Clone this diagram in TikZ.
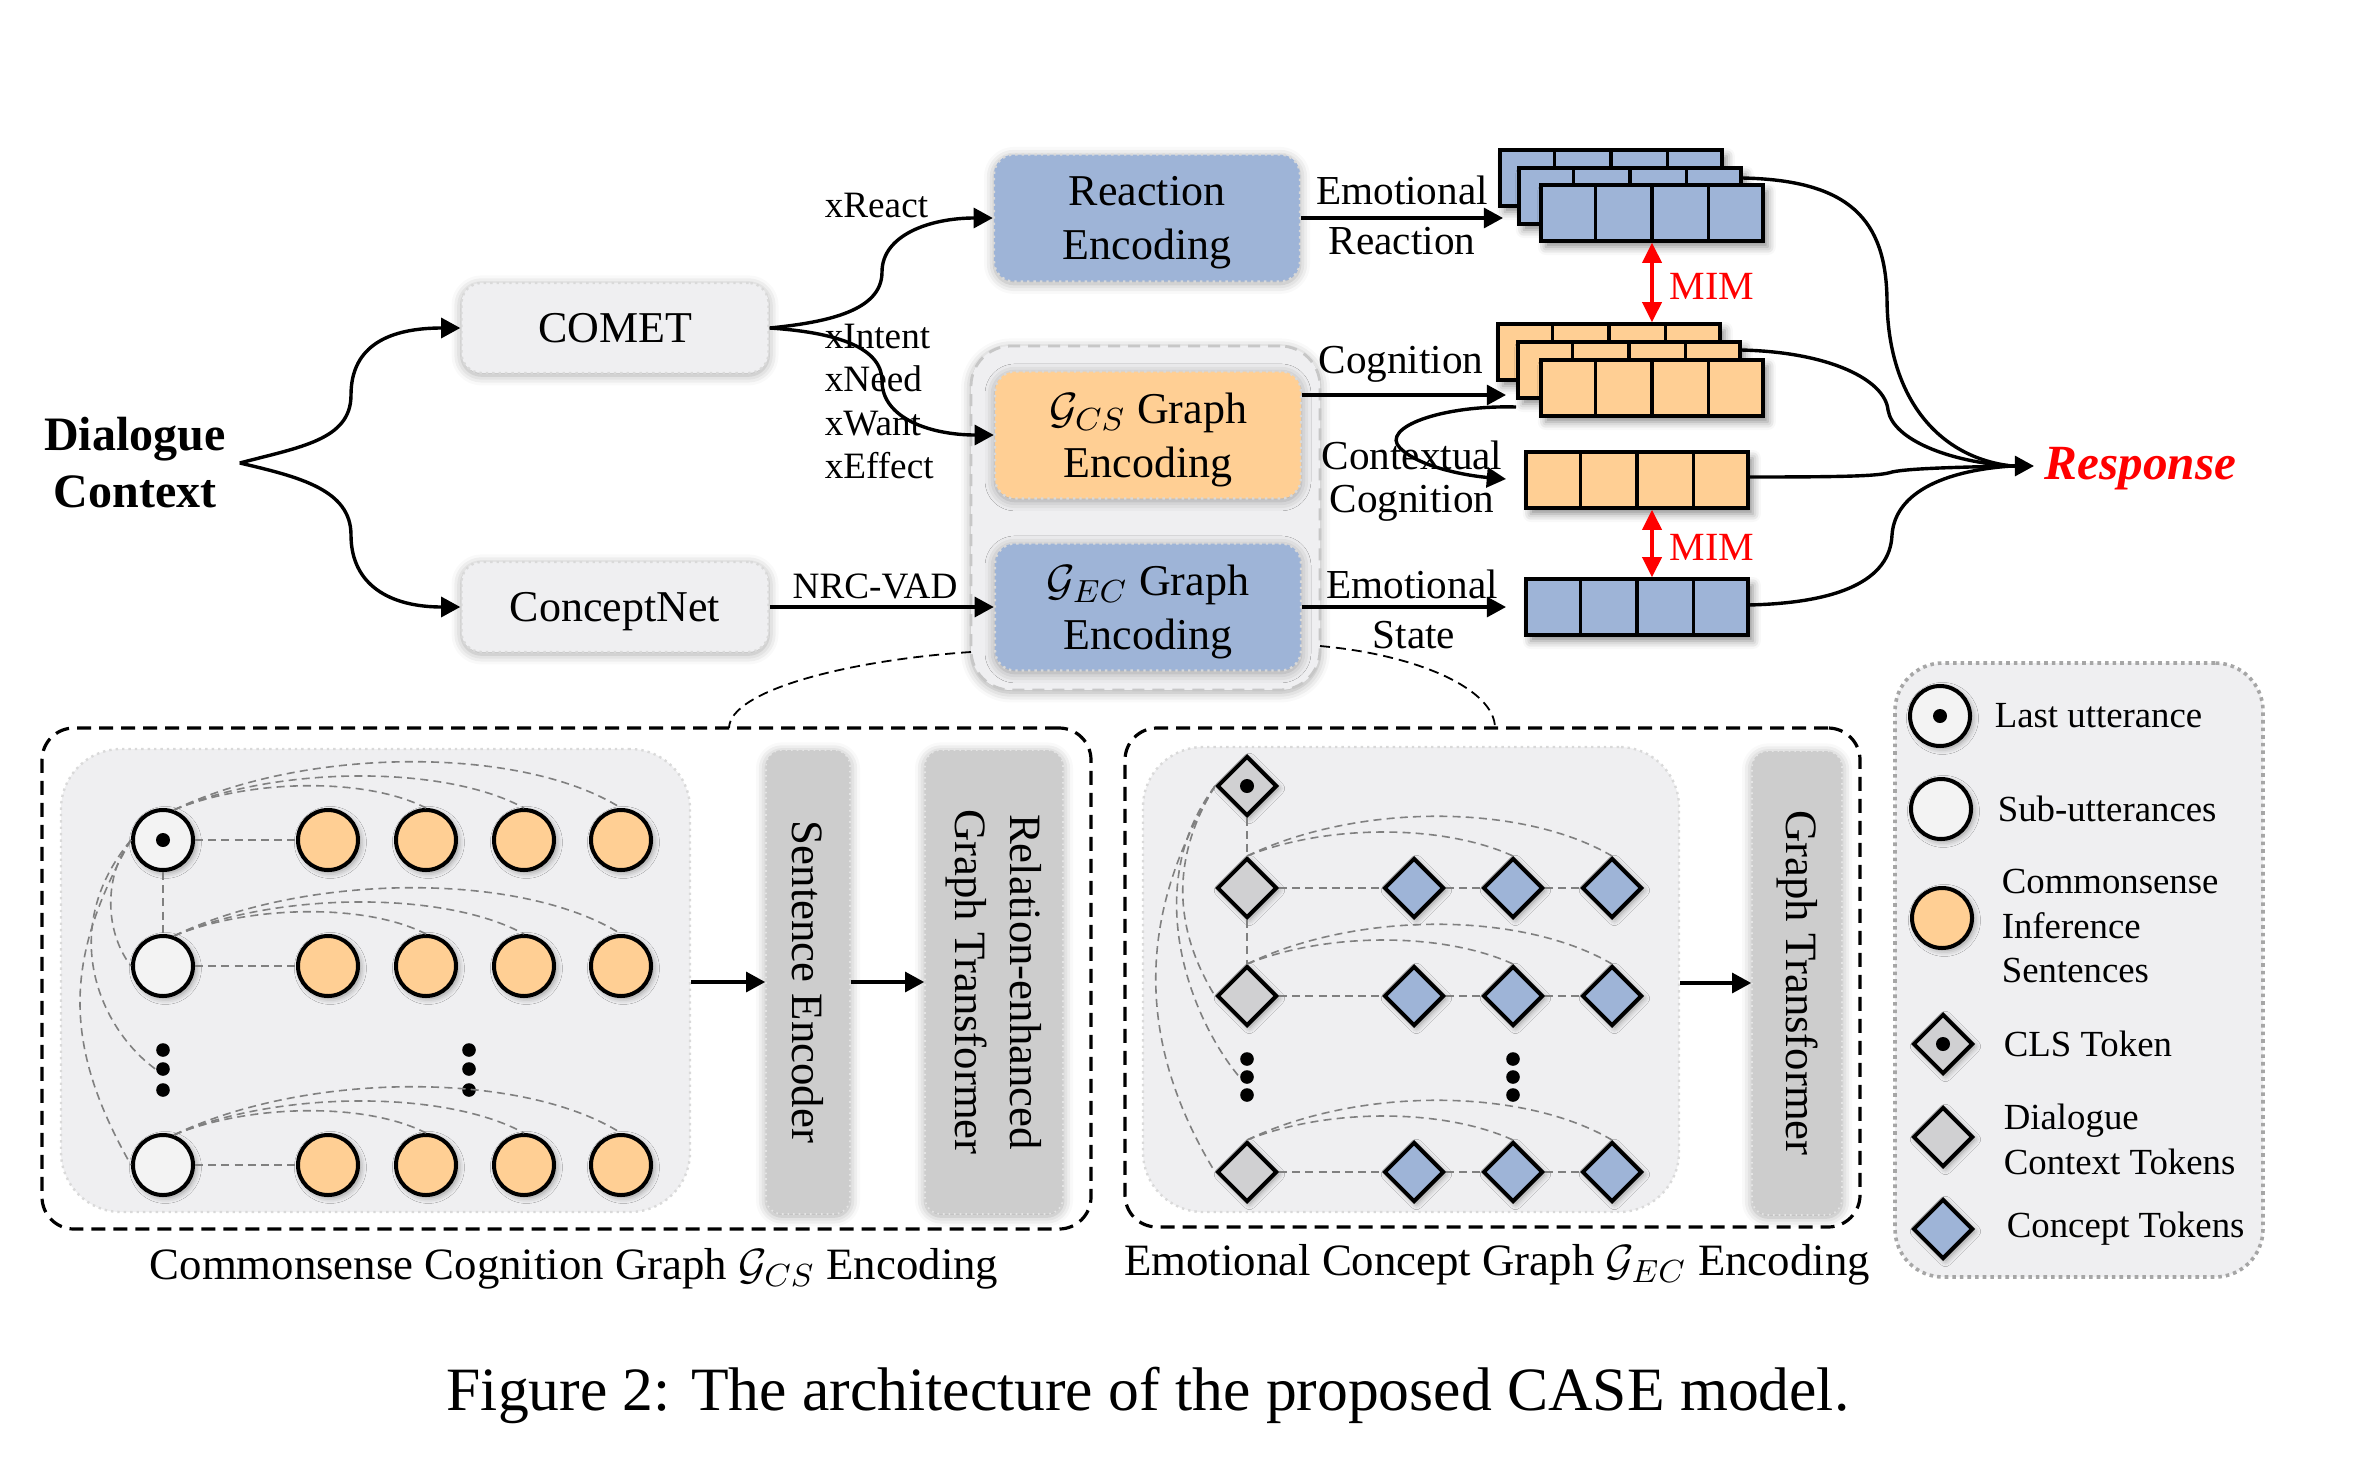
\documentclass[tikz,border=0pt]{standalone}
\usepackage{fontspec}
\setmainfont{Liberation Serif}
\usetikzlibrary{arrows.meta,shapes.geometric,shadows.blur,calc}
\definecolor{cblue}{HTML}{9EB4D7}
\definecolor{corange}{HTML}{FFCF94}
\definecolor{cpanel}{HTML}{EFEFF1}
\definecolor{cbar}{HTML}{CDCDCD}
\definecolor{cdia}{HTML}{D0D0D2}
\definecolor{cwhite}{HTML}{F3F3F3}
\newcommand{\fsz}[2]{\fontsize{#1}{#2}\selectfont}
\newcommand{\mkrow}[4]{%
  \node[rowbox,fill=#3] (#4) at (#1,#2) {};
  \foreach \t in {0.25,0.5,0.75}{\draw[line width=0.9pt] ($(#4.north west)!\t!(#4.north east)$) -- ($(#4.south west)!\t!(#4.south east)$);}%
}
\begin{document}
\begin{tikzpicture}[x=0.25pt,y=-0.25pt,
  arr/.style={line width=0.85pt,-{Triangle[length=4.8pt,width=5pt]}},
  redarr/.style={draw=red,line width=0.8pt,{Triangle[length=5pt,width=4.8pt]}-{Triangle[length=5pt,width=4.8pt]}},
  softshadow/.style={blur shadow={shadow xshift=0pt,shadow yshift=-0.6pt,shadow blur radius=2.5pt,shadow opacity=35}},
  encbox/.style={rectangle,rounded corners=5pt,minimum width=76.5pt,minimum height=31.75pt,inner sep=0pt,
    draw=black!15,densely dotted,line width=0.6pt,align=center,font=\fsz{11}{13.5},text depth=0pt,softshadow},
  srcbox/.style={encbox,fill=cpanel,minimum height=22.5pt,minimum width=76.75pt},
  lbl/.style={font=\fsz{9.3}{11},inner sep=0pt},
  mlbl/.style={font=\fsz{10.3}{12},inner sep=0pt},
  rowbox/.style={rectangle,draw=black,line width=0.9pt,minimum width=55.5pt,minimum height=14pt,inner sep=0pt,
    blur shadow={shadow xshift=1.2pt,shadow yshift=-1.5pt,shadow blur radius=2pt,shadow opacity=45}},
  gshadow/.style={blur shadow={shadow xshift=0.6pt,shadow yshift=-0.6pt,shadow blur radius=1.5pt,shadow opacity=40}},
  gnode/.style={circle,draw=black,line width=1pt,minimum size=15pt,inner sep=0pt,gshadow},
  unode/.style={gnode,fill=cwhite},
  onode/.style={gnode,fill=corange},
  gdiam/.style={diamond,draw=black,line width=1pt,minimum width=15pt,minimum height=15pt,inner sep=0pt,gshadow},
  cdiam/.style={gdiam,fill=cdia},
  bdiam/.style={gdiam,fill=cblue},
  gedge/.style={draw=black!50,line width=0.4pt,dash pattern=on 2pt off 1.3pt},
  gdot/.style={circle,fill=black,minimum size=3.4pt,inner sep=0pt},
  cdot/.style={circle,fill=black,minimum size=3.5pt,inner sep=0pt},
  bar/.style={rectangle,rounded corners=4pt,fill=cbar,draw=black!10,densely dotted,inner sep=0pt,
    rotate=-90,minimum width=116pt,align=center,font=\fsz{11.2}{13.75},softshadow},
  dbox/.style={rectangle,draw=black,line width=0.8pt,dash pattern=on 3.5pt off 2pt,rounded corners=8pt,inner sep=0pt},
  panel/.style={rectangle,fill=cpanel,draw=black!15,densely dotted,line width=0.6pt,rounded corners=15pt,inner sep=0pt},
  conn/.style={draw=black,line width=0.45pt,dash pattern=on 2.5pt off 1.5pt},
  legtxt/.style={font=\fsz{9.2}{11.2},anchor=west,inner sep=0pt,align=left}
]
\useasboundingbox (0,0) rectangle (2354,1456);

% ---------- top part ----------
\node[rectangle,rounded corners=10pt,fill=cpanel,draw=black!22,dash pattern=on 3pt off 2pt,line width=0.7pt,
  minimum width=87.25pt,minimum height=86pt,softshadow] (cont) at (1145.5,518) {};

\node[font=\fsz{12}{14.25}\bfseries,align=center] (dc) at (135,463) {Dialogue\\Context};
\node[srcbox] (comet) at (615,328) {COMET};
\node[srcbox] (cnet) at (615,607) {ConceptNet};
\node[encbox,fill=cblue] (react) at (1147,218) {Reaction\\Encoding};
\node[encbox,fill=corange] (gcs) at (1148,435) {$\mathcal{G}_{CS}$ Graph\\Encoding};
\node[encbox,fill=cblue] (gec) at (1148,607) {$\mathcal{G}_{EC}$ Graph\\Encoding};

\node[lbl,anchor=west] (lreact) at (824,206) {xReact};
\node[lbl,anchor=west] (lint) at (824,336) {xIntent};
\node[lbl,anchor=west] (lneed) at (824,379) {xNeed};
\node[lbl,anchor=west] (lwant) at (824,424) {xWant};
\node[lbl,anchor=west] (leff) at (824,466) {xEffect};
\node[lbl] (lnrc) at (875,586) {NRC-VAD};

\draw[arr] (dc.east) .. controls (300,447) and (351,440) .. (351,395) .. controls (351,345) and (390,328) .. (comet.west);
\draw[arr] (dc.east) .. controls (300,477) and (351,490) .. (351,535) .. controls (351,585) and (390,607) .. (cnet.west);
\draw[arr] (comet.east) .. controls (830,322) and (882,310) .. (882,272) .. controls (882,235) and (930,218) .. (react.west);
\draw[arr] (comet.east) .. controls (830,332) and (882,345) .. (882,381) .. controls (882,418) and (930,435) .. (gcs.west);
\draw[arr] (cnet.east) -- (gec.west);

% right side labels and arrows
\coordinate (erin) at (1503,218);
\coordinate (cogin) at (1506,395);
\coordinate (ccout) at (1516,407);
\coordinate (ccin) at (1506,479);
\coordinate (esin) at (1506,607);
\draw[arr] (react.east) -- (erin);
\node[mlbl] (ler1) at (1402,190) {Emotional};
\node[mlbl] (ler2) at (1402,241) {Reaction};
\draw[arr] (gcs.east |- cogin) -- (cogin);
\node[mlbl] (lcog) at (1401,364) {Cognition};
\draw[arr] (ccout) .. controls (1440,405) and (1380,428) .. (1400,448) .. controls (1420,468) and (1470,476) .. (ccin);
\node[mlbl] (lcc1) at (1412,455) {Contextual};
\node[mlbl] (lcc2) at (1412,503) {Cognition};
\draw[arr] (gec.east) -- (esin);
\node[mlbl] (les1) at (1412,584) {Emotional};
\node[mlbl] (les2) at (1414,635) {State};

% Response curves
\coordinate (rs1) at (1742,178);
\coordinate (rs2) at (1741,350);
\coordinate (rs3) at (1748,477);
\coordinate (rs4) at (1748,605);
\coordinate (rj) at (2012,466);
\coordinate (rtip) at (2034,466);
\draw[line width=0.85pt] (rs1) .. controls (1850,180) and (1886,220) .. (1887,300) .. controls (1888,400) and (1940,458) .. (rj);
\draw[line width=0.85pt] (rs2) .. controls (1830,352) and (1885,380) .. (1888,410) .. controls (1893,440) and (1950,462) .. (rj);
\draw[line width=0.85pt] (rs3) .. controls (1850,477) and (1880,476) .. (1892,472) .. controls (1910,468) and (1970,467) .. (rj);
\draw[line width=0.85pt] (rs4) .. controls (1840,603) and (1890,580) .. (1892,535) .. controls (1895,490) and (1950,470) .. (rj);
\draw[arr] (rj) -- (rtip);
\node[font=\fsz{12.3}{14}\bfseries\itshape,text=red,anchor=west,inner sep=0pt] (resp) at (2044,469) {Response};

% stacks
\mkrow{1611}{178}{cblue}{ba}
\mkrow{1630}{196}{cblue}{bb}
\mkrow{1652}{213}{cblue}{bc}
\mkrow{1609}{352}{corange}{oa}
\mkrow{1629}{370}{corange}{ob}
\mkrow{1652}{388}{corange}{oc}
\mkrow{1637}{480}{corange}{cc}
\mkrow{1637}{607}{cblue}{es}

\draw[redarr] (bc.south) -- (bc.south |- oa.north);
\draw[redarr] ($(cc.south)+(15,0)$) -- ($(es.north)+(15,0)$);
\node[text=red,font=\fsz{10}{12},anchor=west,inner sep=0pt] (mim1) at (1669,286) {MIM};
\node[text=red,font=\fsz{10}{12},anchor=west,inner sep=0pt] (mim2) at (1669,547) {MIM};

% ---------- bottom left: CS graph ----------
\node[dbox,minimum width=262.25pt,minimum height=125.25pt] (csbox) at (566.5,978.5) {};
\node[panel,minimum width=157.25pt,minimum height=115.75pt] (cspanel) at (375.5,980.5) {};
\foreach \r/\yy in {1/840,2/966,3/1165}{
  \node[unode] (c\r1) at (163,\yy) {};
  \foreach \c/\xx in {2/328,3/426,4/524,5/621}{\node[onode] (c\r\c) at (\xx,\yy) {};}
}
\node[cdot] (c11d) at (c11) {};
\foreach \n/\xx in {a/163,b/469}{
  \foreach \m/\yy in {1/1050,2/1069,3/1090}{\node[gdot] (cv\n\m) at (\xx,\yy) {};}
}
\foreach \r in {1,2,3}{
  \draw[gedge] (c\r1.east) -- (c\r2.west);
  \draw[gedge] (c\r1.70) .. controls +(75,-31) and +(-60,-31) .. (c\r3.north);
  \draw[gedge] (c\r1.70) .. controls +(100,-44) and +(-80,-44) .. (c\r4.north);
  \draw[gedge] (c\r1.70) .. controls +(130,-63) and +(-100,-63) .. (c\r5.north);
}
\draw[gedge] (c11.south) -- (c21.north);
\draw[gedge] (c11.west) .. controls +(-27,35) and +(-27,-35) .. (c21.west);
\draw[gedge] (c11.west) .. controls +(-75,90) and +(-55,-40) .. (cva2.west);
\draw[gedge] (c11.west) .. controls +(-68,120) and +(-68,-120) .. (c31.west);

\node[bar,minimum height=21pt] (senc) at (808,982) {Sentence Encoder};
\node[bar,minimum height=34.5pt] (rgt) at (994,982) {Relation-enhanced\\Graph Transformer};
\draw[arr] (cspanel.east |- senc) -- (senc.south);
\draw[arr] (senc.north) -- (rgt.south);
\node[font=\fsz{11.2}{13}] (cscap) at (574,1269) {Commonsense Cognition Graph $\mathcal{G}_{CS}$ Encoding};

% ---------- bottom middle: EC graph ----------
\node[dbox,minimum width=183.75pt,minimum height=124.75pt] (ecbox) at (1492.5,977.5) {};
\node[panel,minimum width=134pt,minimum height=116.25pt] (ecpanel) at (1411,979.5) {};
\node[cdiam] (cls) at (1247,786) {};
\node[cdot] (clsd) at (cls) {};
\foreach \r/\yy in {1/888,2/996,3/1172}{
  \node[cdiam] (e\r1) at (1247,\yy) {};
  \foreach \c/\xx in {2/1414,3/1513,4/1612}{\node[bdiam] (e\r\c) at (\xx,\yy) {};}
}
\foreach \n/\xx in {a/1247,b/1513}{
  \foreach \m/\yy in {1/1059,2/1077,3/1095}{\node[gdot] (ev\n\m) at (\xx,\yy) {};}
}
\foreach \r in {1,2,3}{
  \draw[gedge] (e\r1.east) -- (e\r2.west);
  \draw[gedge] (e\r2.east) -- (e\r3.west);
  \draw[gedge] (e\r3.east) -- (e\r4.west);
  \draw[gedge] (e\r1.north) .. controls +(80,-32) and +(-70,-32) .. (e\r3.north);
  \draw[gedge] (e\r1.north) .. controls +(110,-53) and +(-90,-53) .. (e\r4.north);
}
\draw[gedge] (cls.south) -- (e11.north);
\draw[gedge] (e11.south) -- (e21.north);
\draw[gedge] (cls.west) .. controls +(-43,70) and +(-43,-70) .. (e21.west);
\draw[gedge] (cls.west) .. controls +(-75,100) and +(-50,-60) .. (eva2.west);
\draw[gedge] (cls.west) .. controls +(-79,130) and +(-79,-130) .. (e31.west);

\node[bar,minimum height=22.5pt] (gt) at (1797,983) {Graph Transformer};
\draw[arr] (ecpanel.east |- gt) -- (gt.south);
\node[font=\fsz{11.2}{13}] (eccap) at (1497,1265) {Emotional Concept Graph $\mathcal{G}_{EC}$ Encoding};

% connectors from container
\coordinate (cn1) at (971,652);
\coordinate (cn2) at (729,728);
\coordinate (cn3) at (1320,646);
\coordinate (cn4) at (1495,728);
\draw[conn] (cn1) .. controls (850,660) and (730,690) .. (cn2);
\draw[conn] (cn3) .. controls (1420,655) and (1495,690) .. (cn4);

% ---------- legend ----------
\node[rectangle,rounded corners=12pt,fill=cpanel,draw=black!35,densely dotted,line width=0.9pt,
  minimum width=92pt,minimum height=153.5pt] (legend) at (2079,970) {};
\node[unode] (lg1) at (1940,716) {};
\node[cdot] (lg1d) at (lg1) {};
\node[unode] (lg2) at (1941,809) {};
\node[onode] (lg3) at (1942,918) {};
\node[cdiam] (lg4) at (1943,1044) {};
\node[cdot] (lg4d) at (lg4) {};
\node[cdiam] (lg5) at (1943,1137) {};
\node[bdiam] (lg6) at (1943,1229) {};
\node[legtxt] (lt1) at (1994,716) {Last utterance};
\node[legtxt] (lt2) at (1997,809) {Sub-utterances};
\node[legtxt] (lt3) at (2001,926) {Commonsense\\Inference\\Sentences};
\node[legtxt] (lt4) at (2003,1044) {CLS Token};
\node[legtxt] (lt5) at (2003,1139) {Dialogue\\Context Tokens};
\node[legtxt] (lt6) at (2006,1229) {Concept Tokens};

% ---------- caption ----------
\node[font=\fsz{15.4}{18}] (figcap) at (1148,1395) {Figure 2: The architecture of the proposed CASE model.};
\end{tikzpicture}
\end{document}
